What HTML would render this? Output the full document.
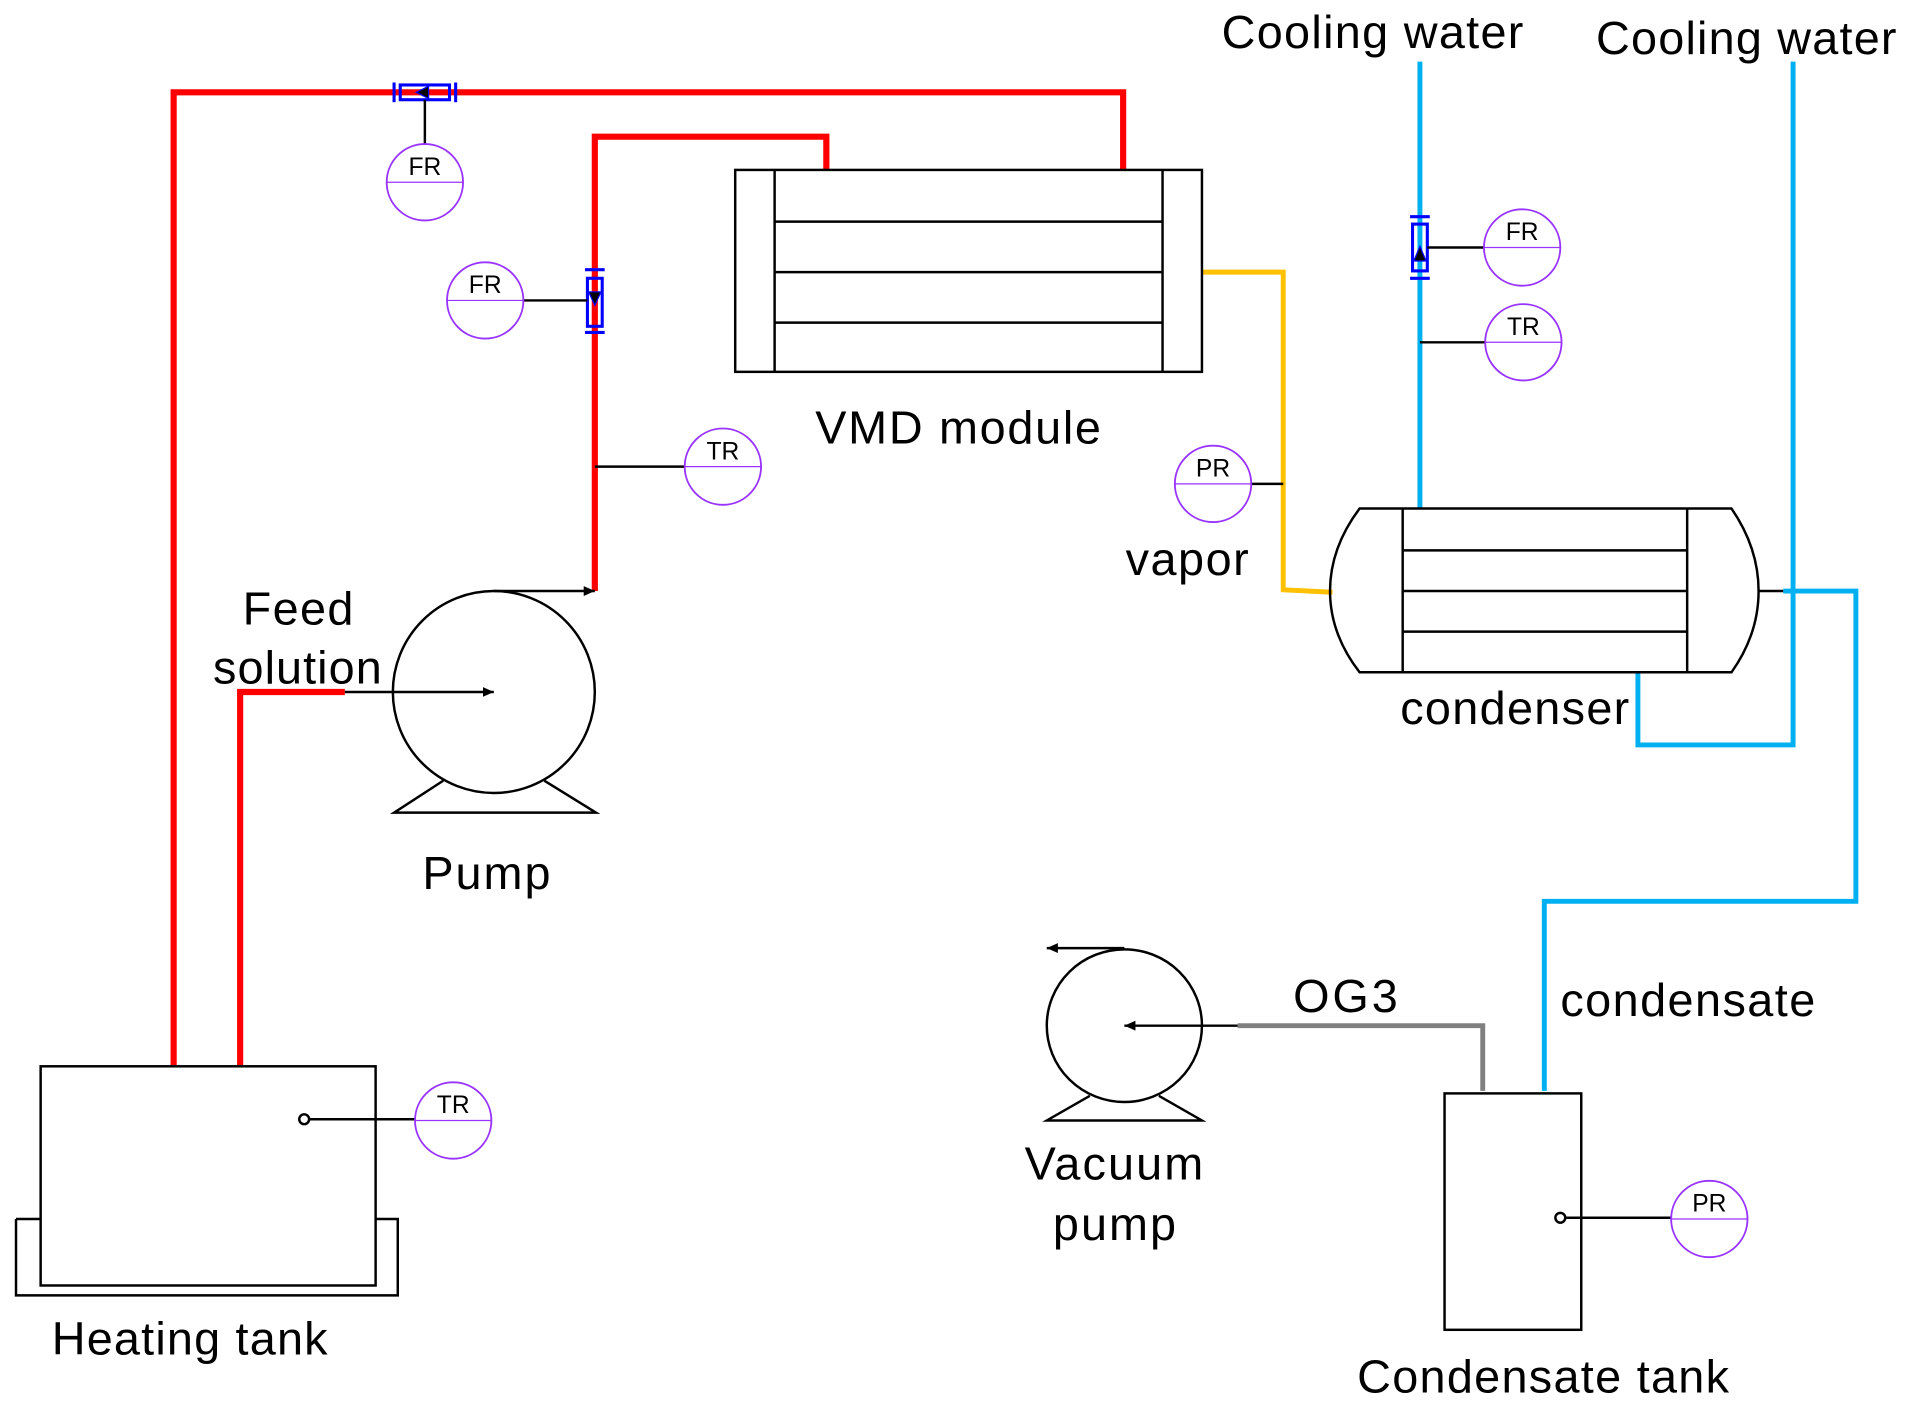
<!DOCTYPE html>
<html><head><meta charset="utf-8"><style>
html,body{margin:0;padding:0;background:#fff;}
svg{display:block;}
text{font-family:"Liberation Sans",sans-serif;fill:#000;}
.i circle{fill:none;stroke:#9933FF;stroke-width:1.5;}
.i line{stroke:#9933FF;stroke-width:1;}
.i text{font-size:20px;text-anchor:middle;}
</style></head><body>
<svg width="1931" height="1416" viewBox="0 0 1568 1150" preserveAspectRatio="none" xmlns="http://www.w3.org/2000/svg">
<defs>
<marker id="ah" markerWidth="10" markerHeight="10" refX="9" refY="5" orient="auto" markerUnits="userSpaceOnUse">
<path d="M0,1 L9,5 L0,9 Z" fill="#000"/></marker>
</defs>
<g fill="none" stroke-linejoin="miter">
<polyline points="141,865 141,75 912,75 912,138" stroke="#FF0000" stroke-width="5"/>
<polyline points="483,480 483,111 671,111 671,138" stroke="#FF0000" stroke-width="5"/>
<polyline points="195,865 195,562 280,562" stroke="#FF0000" stroke-width="5"/>
<polyline points="976,221 1042,221 1042,479 1082,481" stroke="#FFC000" stroke-width="4"/>
<polyline points="1153,50 1153,413" stroke="#00B0F0" stroke-width="4"/>
<polyline points="1456,50 1456,605 1330,605 1330,546" stroke="#00B0F0" stroke-width="4"/>
<polyline points="1448,480 1507,480 1507,732 1254,732 1254,886" stroke="#00B0F0" stroke-width="4"/>
<polyline points="1005,833 1204,833 1204,886" stroke="#808080" stroke-width="4"/>
<line x1="1428" y1="480" x2="1448" y2="480" stroke="#000" stroke-width="2"/>

<g stroke="#0000FF" stroke-width="2.5">
<rect x="325" y="69" width="40" height="12"/>
<line x1="320" y1="67" x2="320" y2="83"/><line x1="370" y1="67" x2="370" y2="83"/>
<rect x="477" y="226" width="12" height="39"/>
<line x1="475" y1="219" x2="491" y2="219"/><line x1="475" y1="270" x2="491" y2="270"/>
<rect x="1147" y="182" width="12" height="38"/>
<line x1="1145" y1="176" x2="1161" y2="176"/><line x1="1145" y1="226" x2="1161" y2="226"/>
</g>
<path d="M338,75 L348,70 L348,80 Z" fill="#000" stroke="#0000FF" stroke-width="1"/>
<path d="M478,237 L488,237 L483,248 Z" fill="#000" stroke="#0000FF" stroke-width="1"/>
<path d="M1148,212 L1158,212 L1153,200 Z" fill="#000" stroke="#0000FF" stroke-width="1"/>

<g stroke="#000" stroke-width="2">
<line x1="345" y1="81" x2="345" y2="117"/>
<line x1="425" y1="244" x2="477" y2="244"/>
<line x1="483" y1="379" x2="556" y2="379"/>
<line x1="1016" y1="393" x2="1042" y2="393"/>
<line x1="1159" y1="201" x2="1205" y2="201"/>
<line x1="1153" y1="278" x2="1206" y2="278"/>
<line x1="251" y1="909" x2="337" y2="909"/>
<line x1="1271" y1="989" x2="1357" y2="989"/>
</g>

<g stroke="#000" stroke-width="2">
<rect x="597" y="138" width="379" height="164"/>
<line x1="629" y1="138" x2="629" y2="302"/><line x1="944" y1="138" x2="944" y2="302"/>
<line x1="629" y1="180" x2="944" y2="180"/><line x1="629" y1="221" x2="944" y2="221"/><line x1="629" y1="262" x2="944" y2="262"/>
</g>

<g stroke="#000" stroke-width="2">
<path d="M1104,413 L1406,413 Q1428,445 1428,480 Q1428,515 1406,546 L1104,546 Q1080,515 1080,480 Q1080,445 1104,413 Z"/>
<line x1="1139" y1="413" x2="1139" y2="546"/><line x1="1370" y1="413" x2="1370" y2="546"/>
<line x1="1139" y1="447" x2="1370" y2="447"/><line x1="1139" y1="480" x2="1370" y2="480"/><line x1="1139" y1="513" x2="1370" y2="513"/>
</g>

<g stroke="#000" stroke-width="2">
<circle cx="401" cy="562" r="82"/>
<polyline points="360,634 320,660 484,660 442,634"/>
<line x1="401" y1="480" x2="483" y2="480" marker-end="url(#ah)"/>
<line x1="280" y1="562" x2="401" y2="562" marker-end="url(#ah)"/>
</g>

<g stroke="#000" stroke-width="2">
<ellipse cx="913" cy="833" rx="63" ry="62"/>
<polyline points="885,890 850,910 976,910 941,890"/>
<line x1="913" y1="770" x2="850" y2="770" marker-end="url(#ah)"/>
<line x1="1005" y1="833" x2="913" y2="833" marker-end="url(#ah)"/>
</g>

<g stroke="#000" stroke-width="2">
<rect x="33" y="866" width="272" height="178"/>
<polyline points="13,990 13,1052 323,1052 323,990 305,990"/>
<line x1="13" y1="990" x2="33" y2="990"/>
<circle cx="247" cy="909" r="4" fill="#fff"/>
</g>
<g stroke="#000" stroke-width="2">
<rect x="1173" y="888" width="111" height="192"/>
<circle cx="1267" cy="989" r="4" fill="#fff"/>
</g>
</g>

<g class="i">
<g><circle cx="345" cy="148" r="31"/><line x1="314" y1="148" x2="376" y2="148"/><text x="345" y="142">FR</text></g>
<g><circle cx="394" cy="244" r="31"/><line x1="363" y1="244" x2="425" y2="244"/><text x="394" y="238">FR</text></g>
<g><circle cx="587" cy="379" r="31"/><line x1="556" y1="379" x2="618" y2="379"/><text x="587" y="373">TR</text></g>
<g><circle cx="985" cy="393" r="31"/><line x1="954" y1="393" x2="1016" y2="393"/><text x="985" y="387">PR</text></g>
<g><circle cx="1236" cy="201" r="31"/><line x1="1205" y1="201" x2="1267" y2="201"/><text x="1236" y="195">FR</text></g>
<g><circle cx="1237" cy="278" r="31"/><line x1="1206" y1="278" x2="1268" y2="278"/><text x="1237" y="272">TR</text></g>
<g><circle cx="368" cy="910" r="31"/><line x1="337" y1="910" x2="399" y2="910"/><text x="368" y="904">TR</text></g>
<g><circle cx="1388" cy="990" r="31"/><line x1="1357" y1="990" x2="1419" y2="990"/><text x="1388" y="984">PR</text></g>
</g>

<g font-size="38">
<text x="992" y="39" textLength="245">Cooling water</text>
<text x="1296" y="44" textLength="244">Cooling water</text>
<text x="662" y="360" textLength="232">VMD module</text>
<text x="914" y="467" textLength="100">vapor</text>
<text x="1137" y="588" textLength="186">condenser</text>
<text x="197" y="507" textLength="90">Feed</text>
<text x="173" y="555" textLength="137">solution</text>
<text x="343" y="722" textLength="104">Pump</text>
<text x="1050" y="822" textLength="85">OG3</text>
<text x="1267" y="825" textLength="207">condensate</text>
<text x="832" y="958" textLength="145">Vacuum</text>
<text x="855" y="1007" textLength="100">pump</text>
<text x="42" y="1100" textLength="224">Heating tank</text>
<text x="1102" y="1131" textLength="302">Condensate tank</text>
</g>
</svg>
</body></html>
